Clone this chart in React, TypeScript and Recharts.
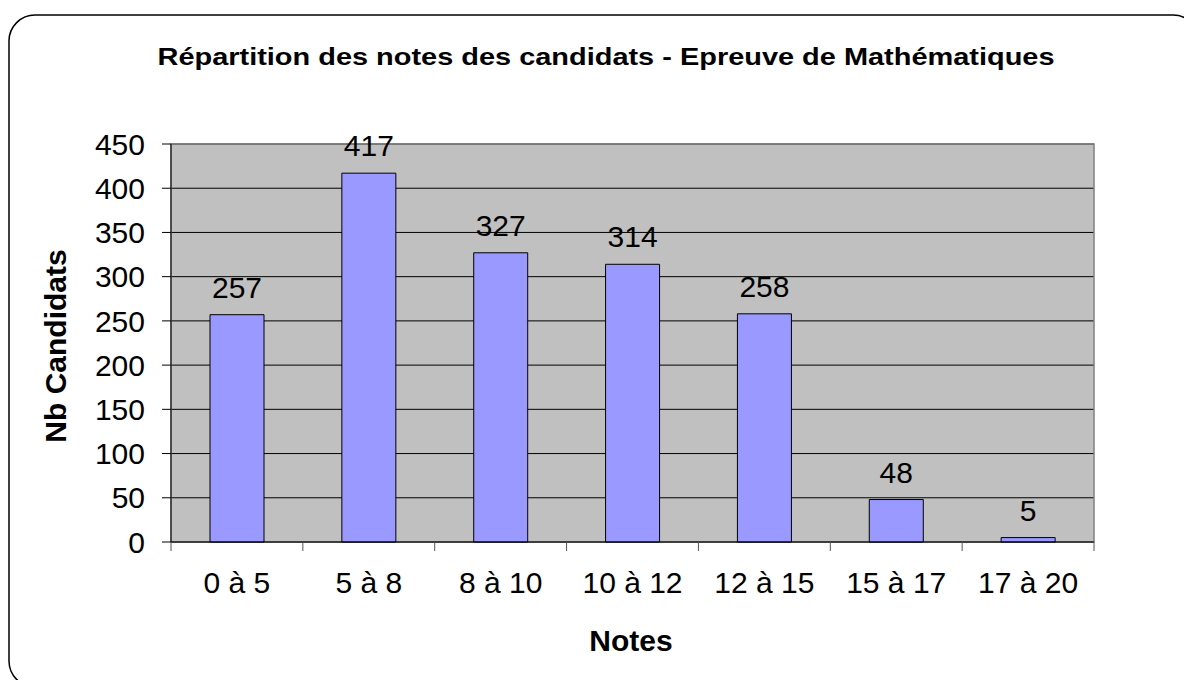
import { BarChart, Bar, XAxis, YAxis, CartesianGrid, LabelList, ReferenceArea } from "recharts";

const categories = ["0 à 5", "5 à 8", "8 à 10", "10 à 12", "12 à 15", "15 à 17", "17 à 20"];
const candidates = [257, 417, 327, 314, 258, 48, 5];
const yTicks = [0, 50, 100, 150, 200, 250, 300, 350, 400, 450];

const data = categories.map((name, i) => ({ name, value: candidates[i] }));

const FONT = '"Liberation Sans", Arial, Helvetica, sans-serif';
const CHART_W = 1184;
const CHART_H = 680;
const MARGIN = { top: 144, right: 90, bottom: 78, left: 91 };
const Y_AXIS_W = 80;
const X_AXIS_H = 60;
const PLOT_W = CHART_W - MARGIN.left - MARGIN.right - Y_AXIS_W;
const TICK_SIZE = 9;
const TICK_MARGIN = 21;

// Excel style: tick marks sit between categories, not under them
function NoteTick(props: any) {
  const { x, y, payload, index } = props;
  const step = PLOT_W / categories.length;
  const top = y - TICK_MARGIN - TICK_SIZE;
  const bottom = y - TICK_MARGIN;
  return (
    <g>
      <line x1={x - step / 2} x2={x - step / 2} y1={top} y2={bottom} stroke="#555" />
      {index === categories.length - 1 && (
        <line x1={x + step / 2} x2={x + step / 2} y1={top} y2={bottom} stroke="#555" />
      )}
      <text x={x} y={y} dy="0.71em" textAnchor="middle" fill="#000" fontSize={30} fontFamily={FONT}>
        {payload.value}
      </text>
    </g>
  );
}

export default function App() {
  return (
    <div
      style={{
        position: "fixed",
        left: 0,
        top: 0,
        width: CHART_W,
        height: CHART_H,
        overflow: "hidden",
        background: "#fff",
      }}
    >
      <BarChart width={CHART_W} height={CHART_H} data={data} margin={MARGIN} barSize={54}>
        <CartesianGrid vertical={false} stroke="#000" strokeOpacity={1} fill="#C0C0C0" fillOpacity={1} />
        <ReferenceArea
          x1={categories[0]}
          x2={categories[categories.length - 1]}
          y1={0}
          y2={450}
          fill="none"
          stroke="#808080"
          strokeWidth={1.5}
          ifOverflow="visible"
        />
        <XAxis
          dataKey="name"
          interval={0}
          height={X_AXIS_H}
          tickSize={TICK_SIZE}
          tickMargin={TICK_MARGIN}
          tickLine={false}
          axisLine={{ stroke: "#000" }}
          tick={<NoteTick />}
        />
        <YAxis
          domain={[0, 450]}
          ticks={yTicks}
          interval={0}
          width={Y_AXIS_W}
          tickSize={TICK_SIZE}
          tickMargin={17}
          axisLine={{ stroke: "#000" }}
          tickLine={{ stroke: "#000" }}
          tick={{ fill: "#000", fontSize: 30, fontFamily: FONT }}
        />
        <Bar dataKey="value" fill="#9999FF" stroke="#000" strokeWidth={1} isAnimationActive={false}>
          <LabelList dataKey="value" position="top" offset={17} fill="#000" fontSize={30} fontFamily={FONT} />
        </Bar>
      </BarChart>

      <svg
        width={CHART_W}
        height={CHART_H}
        style={{ position: "absolute", left: 0, top: 0, pointerEvents: "none" }}
      >
        <rect x={9} y={15} width={1190} height={672} rx={26} fill="none" stroke="#000" strokeWidth={1.5} />
        <text
          x={606}
          y={65}
          textAnchor="middle"
          fontFamily={FONT}
          fontWeight="bold"
          fontSize={24}
          textLength={897}
          lengthAdjust="spacingAndGlyphs"
          fill="#000"
        >
          Répartition des notes des candidats - Epreuve de Mathématiques
        </text>
        <text x={631} y={651} textAnchor="middle" fontFamily={FONT} fontWeight="bold" fontSize={30} fill="#000">
          Notes
        </text>
        <text
          x={66}
          y={346}
          textAnchor="middle"
          transform="rotate(-90 66 346)"
          fontFamily={FONT}
          fontWeight="bold"
          fontSize={30}
          fill="#000"
        >
          Nb Candidats
        </text>
      </svg>
    </div>
  );
}
